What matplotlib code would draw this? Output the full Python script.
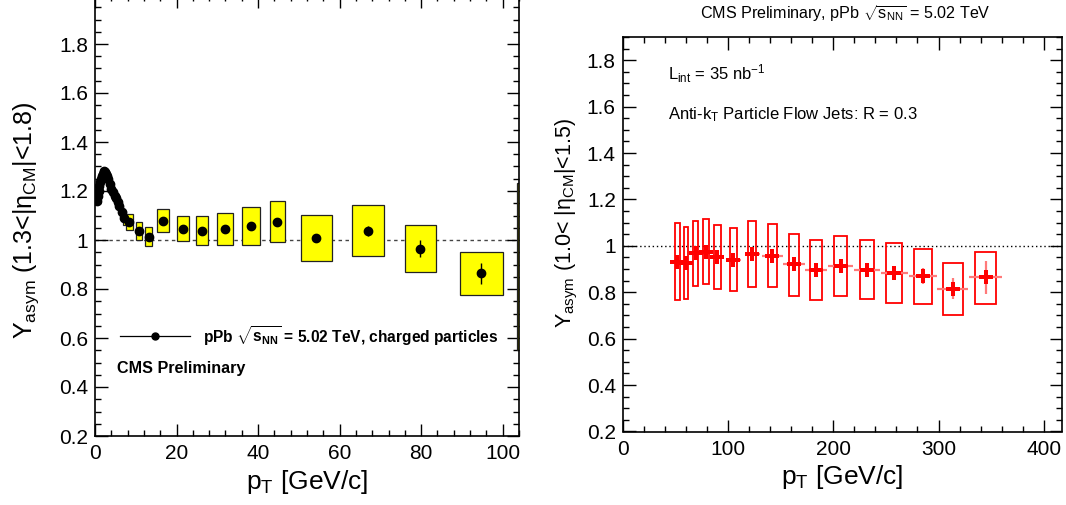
import matplotlib
matplotlib.use("Agg")
import matplotlib.pyplot as plt
from matplotlib.patches import Rectangle
from matplotlib.ticker import MultipleLocator, FuncFormatter

plt.rcParams['font.family'] = ['Liberation Sans', 'DejaVu Sans']
plt.rcParams['mathtext.fontset'] = 'custom'
plt.rcParams['mathtext.rm'] = 'Liberation Sans'
plt.rcParams['mathtext.it'] = 'Liberation Sans:italic'
plt.rcParams['mathtext.bf'] = 'Liberation Sans:bold'
plt.rcParams['mathtext.sf'] = 'Liberation Sans'

# ---------------- Left panel: charged particles ----------------
pt_ch = [0.5, 0.7, 0.9, 1.1, 1.3, 1.5, 1.7, 1.9, 2.1, 2.3, 2.5, 2.7, 2.9,
         3.2, 3.6, 4.0, 4.4, 4.8, 5.2, 5.6, 6.0, 6.5, 7.2,
         8.4, 10.8, 13.2, 16.7, 21.6, 26.3, 31.9, 38.3, 44.7, 54.3, 67.0, 79.8, 94.8, 110.0]
yasym_ch = [1.16, 1.18, 1.20, 1.22, 1.235, 1.25, 1.262, 1.27, 1.277, 1.28, 1.278, 1.27, 1.26,
            1.25, 1.23, 1.21, 1.195, 1.18, 1.17, 1.155, 1.14, 1.115, 1.09,
            1.075, 1.038, 1.014, 1.079, 1.045, 1.038, 1.046, 1.058, 1.075, 1.008, 1.037, 0.965, 0.864, 0.892]
stat_ch = [0.003] * 23 + [0.004, 0.004, 0.005, 0.005, 0.006, 0.006, 0.007, 0.008, 0.009,
                          0.012, 0.022, 0.034, 0.044, 0.05]
sys_ch = [0.012] * 13 + [0.018] * 8 + [0.022, 0.028] + \
         [0.033, 0.036, 0.038, 0.047, 0.051, 0.059, 0.066, 0.077, 0.085, 0.094, 0.104, 0.0975, 0.087, 0.341]
binhw_ch = [0.1] * 13 + [0.3] * 8 + [0.35, 0.45] + \
           [0.8, 0.8, 0.85, 1.45, 1.5, 1.5, 1.95, 2.15, 1.85, 3.85, 3.85, 3.85, 5.2, 6.4]

# ---------------- Right panel: jets ----------------
pt_jet = [52.0, 60.2, 69.4, 79.2, 90.0, 105.2, 123.2, 142.2, 162.8, 183.7, 207.2, 231.9,
          257.9, 285.2, 313.7, 344.7]
yasym_jet = [0.932, 0.928, 0.969, 0.974, 0.951, 0.940, 0.966, 0.958, 0.921, 0.897, 0.915,
             0.898, 0.884, 0.870, 0.815, 0.864]
xerr_jet = [4.0, 4.0, 4.5, 5.0, 5.5, 7.0, 7.5, 10.0, 10.5, 10.6, 12.0, 12.3, 13.0, 13.5, 14.7, 16.0]
stat_jet = [0.018, 0.018, 0.018, 0.018, 0.018, 0.015, 0.018, 0.018, 0.018, 0.018, 0.02,
            0.02, 0.026, 0.036, 0.046, 0.07]
sys_lo_jet = [0.768, 0.773, 0.829, 0.835, 0.814, 0.806, 0.824, 0.821, 0.786, 0.766, 0.782,
              0.772, 0.754, 0.749, 0.702, 0.749]
sys_hi_jet = [1.100, 1.082, 1.108, 1.115, 1.092, 1.077, 1.109, 1.095, 1.053, 1.027, 1.044,
              1.025, 1.014, 0.988, 0.928, 0.975]
sys_hw_jet = [2.4, 2.25, 2.4, 2.7, 3.05, 3.45, 3.8, 4.3, 4.9, 5.7, 6.2, 6.8, 7.75, 8.25, 9.15, 10.3]

W, H = 1066, 505
fig = plt.figure(figsize=(W / 100, H / 100), dpi=100)

axL = fig.add_axes([95 / W, 1 - 436 / H, (519 - 95) / W, (436 + 5) / H])
axR = fig.add_axes([622.7 / W, 1 - 431.5 / H, (1061.7 - 622.7) / W, (431.5 - 37) / H])

fmt = FuncFormatter(lambda v, p: ('%g' % round(v, 3)))


def style(ax, xmaj, xmin):
    ax.xaxis.set_major_locator(MultipleLocator(xmaj))
    ax.xaxis.set_minor_locator(MultipleLocator(xmin))
    ax.yaxis.set_major_locator(MultipleLocator(0.2))
    ax.yaxis.set_minor_locator(MultipleLocator(0.05))
    ax.xaxis.set_major_formatter(fmt)
    ax.yaxis.set_major_formatter(fmt)
    ax.tick_params(which='both', direction='in', top=True, right=True, width=1.0)
    ax.tick_params(which='major', length=9, labelsize=15, pad=5)
    ax.tick_params(axis='x', which='major', pad=6)
    ax.tick_params(which='minor', length=4.5)
    for s in ax.spines.values():
        s.set_linewidth(1.2)


# ---- Left ----
style(axL, 20, 4)
axL.set_xlim(0, 104)
axL.set_ylim(0.2, 2.0)
axL.set_yticks([0.2, 0.4, 0.6, 0.8, 1.0, 1.2, 1.4, 1.6, 1.8])
axL.axhline(1.0, color='#444444', lw=1.0, ls=(0, (2.5, 2.5)), zorder=1)
for x, y, s, hw in zip(pt_ch, yasym_ch, sys_ch, binhw_ch):
    axL.add_patch(Rectangle((x - hw, y - s), 2 * hw, 2 * s, facecolor='#ffff00',
                            edgecolor='#222222', lw=0.9, zorder=2))
axL.errorbar(pt_ch, yasym_ch, yerr=stat_ch, fmt='o', color='black', ms=6,
             elinewidth=1.0, capsize=0, zorder=3)
axL.set_xlabel(r'p$_{\mathrm{T}}$ [GeV/c]', fontsize=19, labelpad=3)
axL.set_ylabel(r'Y$_{\mathrm{asym}}$ (1.3<|η$_{\mathrm{CM}}$|<1.8)', fontsize=18)
axL.yaxis.set_label_coords(-0.128, 0.49)
# legend
axL.plot([0.059, 0.224], [0.2268, 0.2268], transform=axL.transAxes, color='black', lw=0.9)
axL.plot([0.1415], [0.2268], transform=axL.transAxes, marker='o', color='black', ms=5)
axL.text(0.255, 0.2268, r'pPb $\sqrt{\mathbf{s}_{\mathbf{NN}}}$ = 5.02 TeV, charged particles',
         transform=axL.transAxes, fontsize=11.2, fontweight='bold', va='center', ha='left')
axL.text(0.052, 0.154, 'CMS Preliminary', transform=axL.transAxes, fontsize=11.6,
         fontweight='bold', va='center', ha='left')

# ---- Right ----
style(axR, 100, 20)
axR.set_xlim(0, 417)
axR.set_ylim(0.2, 1.9)
axR.set_yticks([0.2, 0.4, 0.6, 0.8, 1.0, 1.2, 1.4, 1.6, 1.8])
axR.axhline(1.0, color='black', lw=1.0, ls=(0, (1, 2)), zorder=1)
for x, lo, hi, hw in zip(pt_jet, sys_lo_jet, sys_hi_jet, sys_hw_jet):
    axR.add_patch(Rectangle((x - hw, lo), 2 * hw, hi - lo, facecolor='none',
                            edgecolor='#ff0000', lw=1.3, zorder=2))
axR.errorbar(pt_jet, yasym_jet, xerr=xerr_jet, yerr=stat_jet, fmt='none',
             ecolor='#ff7a7a', elinewidth=1.6, capsize=0, zorder=3)
axR.plot(pt_jet, yasym_jet, ls='none', marker='P', color='#ff0000', ms=9.5, mew=0, zorder=4)
axR.set_xlabel(r'p$_{\mathrm{T}}$ [GeV/c]', fontsize=19, labelpad=3)
axR.set_ylabel(r'Y$_{\mathrm{asym}}$ (1.0< |η$_{\mathrm{CM}}$|<1.5)', fontsize=15.5)
axR.yaxis.set_label_coords(-0.097, 0.53)
axR.text(0.103, 0.906, r'L$_{\mathrm{int}}$ = 35 nb$^{\mathrm{-1}}$', transform=axR.transAxes,
         fontsize=12, va='center', ha='left')
axR.text(0.103, 0.804, r'Anti-k$_{\mathrm{T}}$ Particle Flow Jets: R = 0.3', transform=axR.transAxes,
         fontsize=12, va='center', ha='left')
fig.text(845 / W, 1 - 14 / H, r'CMS Preliminary, pPb $\sqrt{\mathrm{s}_{\mathrm{NN}}}$ = 5.02 TeV',
         fontsize=11.6, va='center', ha='center')

fig.savefig('out.png', dpi=100)
